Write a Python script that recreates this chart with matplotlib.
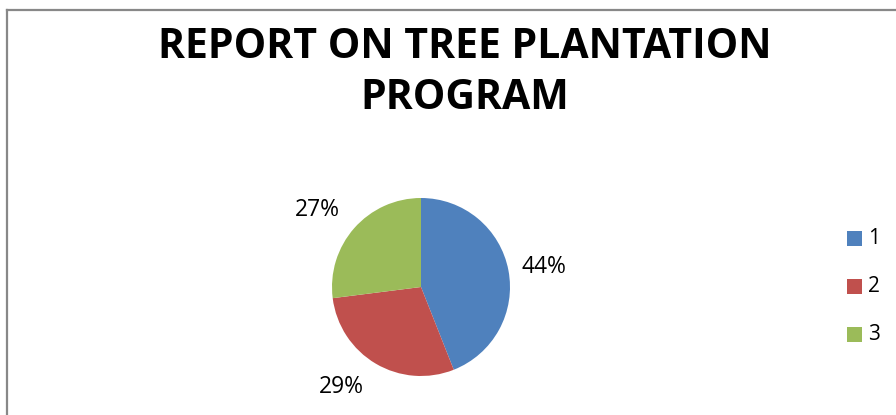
import matplotlib
matplotlib.use("Agg")
import matplotlib.pyplot as plt
from matplotlib.patches import Rectangle

# data
labels = ['1', '2', '3']
values = [44, 29, 27]
colors = ['#4F81BD', '#C0504D', '#9BBB59']
title = 'REPORT ON TREE PLANTATION\nPROGRAM'

W, H = 896, 415
fig = plt.figure(figsize=(W / 100, H / 100), dpi=100)
fig.patch.set_facecolor('white')

# chart frame (cropped: only top and left edges visible)
fig.add_artist(plt.Line2D([7 / W, 7 / W], [0, 1 - 10 / H], color='#888888', lw=1.6))
fig.add_artist(plt.Line2D([7 / W, 1], [1 - 10 / H, 1 - 10 / H], color='#888888', lw=1.6))

fig.text(465 / W, 1 - 73 / H, title, ha='center', va='center', fontsize=29.5,
         fontweight='bold', family='Open Sans', linespacing=1.3)

# pie
cx, cy, r = 421, 287, 89
ax = fig.add_axes([(cx - r) / W, (H - cy - r) / H, 2 * r / W, 2 * r / H])
wedges, texts, autotexts = ax.pie(values, colors=colors, startangle=90, counterclock=False,
                                  radius=1, autopct='%1.0f%%', pctdistance=1.42,
                                  textprops={'fontsize': 16.5, 'family': 'Open Sans'})
# excel style outside label spots
label_pos = [(1.38, 0.22), (-0.89, -1.12), (-1.16, 0.87)]
for t, p in zip(autotexts, label_pos):
    t.set_position(p)
ax.set_xlim(-1, 1)
ax.set_ylim(-1, 1)
ax.set_aspect('auto')
ax.axis('off')

# legend
for i, (lab, col) in enumerate(zip(labels, colors)):
    y = 238 + i * 48
    fig.add_artist(Rectangle((847 / W, 1 - (y + 7.5) / H), 15 / W, 15 / H,
                             transform=fig.transFigure, facecolor=col, edgecolor='none'))
    fig.text(868 / W, 1 - y / H, lab, ha='left', va='center', fontsize=15, family='Open Sans')

fig.savefig('out.png', dpi=100)
